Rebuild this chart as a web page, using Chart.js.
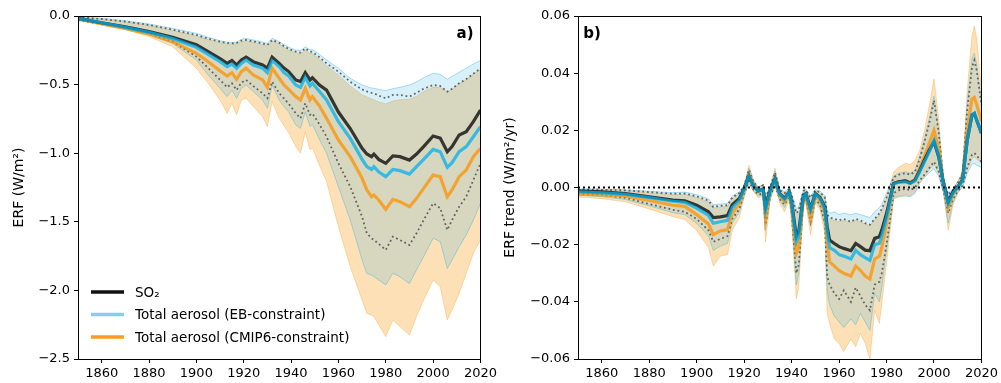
<!DOCTYPE html>
<html>
<head>
<meta charset="utf-8">
<script src="https://cdn.jsdelivr.net/npm/chart.js@4.4.0/dist/chart.umd.min.js"></script>
<style>
  body { margin: 0; background: #fff; }
  #wrap { position: relative; width: 1001px; height: 383px; }
  canvas { position: absolute; top: 0; }
</style>
</head>
<body>
<div id="wrap">
  <canvas id="chartA" width="500" height="383" style="left:0px"></canvas>
  <canvas id="chartB" width="501" height="383" style="left:500px"></canvas>
</div>
<script>
// ---- panel a) : ERF (W/m2) ----
var yearsA = [1850,1860,1870,1880,1890,1900,1905,1910,1913,1915,1917,1919,1921,1924,1928,1930,1932,1935,1937,1939,1942,1944,1946,1948,1949,1952,1955,1960,1965,1970,1972,1974,1975,1977,1980,1983,1986,1990,1993,1996,2000,2003,2006,2008,2011,2014,2017,2020];
var so2A = [-0.017,-0.049,-0.078,-0.114,-0.155,-0.21,-0.26,-0.31,-0.345,-0.325,-0.357,-0.32,-0.30,-0.333,-0.357,-0.38,-0.30,-0.345,-0.38,-0.405,-0.466,-0.478,-0.413,-0.466,-0.45,-0.503,-0.54,-0.70,-0.82,-0.965,-1.006,-1.025,-1.006,-1.045,-1.074,-1.02,-1.025,-1.05,-1.006,-0.952,-0.875,-0.89,-0.99,-0.952,-0.867,-0.843,-0.77,-0.685];
var ebA = [-0.017,-0.049,-0.083,-0.119,-0.165,-0.228,-0.279,-0.333,-0.369,-0.35,-0.381,-0.345,-0.32,-0.357,-0.381,-0.413,-0.325,-0.369,-0.413,-0.437,-0.503,-0.52,-0.447,-0.51,-0.49,-0.55,-0.612,-0.77,-0.892,-1.045,-1.098,-1.118,-1.098,-1.135,-1.171,-1.118,-1.127,-1.152,-1.098,-1.045,-0.972,-0.989,-1.103,-1.069,-0.989,-0.952,-0.88,-0.807];
var cmA = [-0.017,-0.058,-0.09,-0.131,-0.187,-0.272,-0.333,-0.40,-0.437,-0.413,-0.462,-0.406,-0.38,-0.43,-0.466,-0.52,-0.38,-0.454,-0.503,-0.535,-0.588,-0.612,-0.527,-0.612,-0.588,-0.656,-0.746,-0.904,-1.025,-1.183,-1.268,-1.317,-1.305,-1.341,-1.409,-1.336,-1.353,-1.39,-1.329,-1.256,-1.159,-1.171,-1.317,-1.268,-1.171,-1.122,-1.025,-0.965];
// ranges
var ebHiA = [-0.005,-0.017,-0.034,-0.058,-0.09,-0.126,-0.155,-0.18,-0.19,-0.194,-0.19,-0.17,-0.163,-0.175,-0.19,-0.20,-0.163,-0.187,-0.21,-0.228,-0.248,-0.253,-0.224,-0.248,-0.245,-0.28,-0.32,-0.381,-0.454,-0.503,-0.515,-0.525,-0.527,-0.535,-0.544,-0.53,-0.52,-0.503,-0.48,-0.45,-0.418,-0.425,-0.462,-0.44,-0.41,-0.38,-0.35,-0.325];
var ebLoA = [-0.03,-0.06,-0.097,-0.138,-0.2,-0.32,-0.43,-0.527,-0.588,-0.54,-0.60,-0.527,-0.503,-0.55,-0.612,-0.673,-0.503,-0.612,-0.66,-0.7,-0.794,-0.819,-0.697,-0.806,-0.79,-0.9,-1.0,-1.244,-1.487,-1.778,-1.876,-1.89,-1.90,-1.924,-1.96,-1.876,-1.90,-1.95,-1.85,-1.754,-1.62,-1.645,-1.84,-1.778,-1.681,-1.596,-1.487,-1.365];
var cmHiA = [-0.01,-0.024,-0.044,-0.068,-0.105,-0.146,-0.172,-0.194,-0.204,-0.207,-0.203,-0.188,-0.182,-0.192,-0.208,-0.218,-0.182,-0.203,-0.228,-0.248,-0.268,-0.277,-0.248,-0.272,-0.275,-0.315,-0.364,-0.43,-0.51,-0.576,-0.59,-0.605,-0.612,-0.625,-0.641,-0.62,-0.61,-0.607,-0.585,-0.55,-0.52,-0.52,-0.551,-0.535,-0.495,-0.462,-0.425,-0.389];
var cmLoA = [-0.034,-0.065,-0.10,-0.15,-0.224,-0.381,-0.49,-0.612,-0.71,-0.636,-0.72,-0.612,-0.60,-0.66,-0.734,-0.806,-0.624,-0.746,-0.8,-0.85,-0.953,-1.0,-0.843,-0.977,-0.96,-1.09,-1.207,-1.535,-1.827,-2.07,-2.167,-2.18,-2.19,-2.25,-2.337,-2.216,-2.264,-2.325,-2.19,-2.07,-1.924,-1.973,-2.216,-2.143,-2.02,-1.876,-1.73,-1.633];
var so2HiA = [-0.01,-0.022,-0.04,-0.065,-0.1,-0.138,-0.165,-0.187,-0.197,-0.2,-0.196,-0.18,-0.175,-0.185,-0.2,-0.211,-0.175,-0.195,-0.22,-0.24,-0.26,-0.267,-0.236,-0.26,-0.262,-0.3,-0.345,-0.406,-0.479,-0.535,-0.55,-0.56,-0.564,-0.58,-0.60,-0.575,-0.575,-0.588,-0.56,-0.53,-0.503,-0.51,-0.551,-0.53,-0.49,-0.46,-0.42,-0.381];
var so2LoA = [-0.03,-0.058,-0.09,-0.126,-0.187,-0.296,-0.38,-0.466,-0.52,-0.49,-0.54,-0.486,-0.466,-0.51,-0.564,-0.60,-0.479,-0.564,-0.6,-0.64,-0.71,-0.746,-0.636,-0.72,-0.71,-0.79,-0.88,-1.074,-1.244,-1.463,-1.584,-1.62,-1.633,-1.66,-1.705,-1.608,-1.633,-1.669,-1.584,-1.487,-1.365,-1.40,-1.56,-1.487,-1.39,-1.317,-1.195,-1.074];

// ---- panel b) : ERF trend (W/m2/yr) ----
var yearsB = [1850,1860,1870,1880,1890,1895,1900,1905,1907,1910,1913,1915,1918,1920,1922,1924,1926,1928,1929,1931,1933,1935,1937,1939,1940,1942,1943,1945,1946,1948,1950,1952,1954,1955,1956,1958,1960,1962,1965,1967,1969,1971,1973,1975,1977,1978,1980,1983,1985,1988,1990,1992,1994,1996,1998,2000,2002,2004,2006,2008,2010,2012,2014,2016,2017,2018,2020];
var so2B = [-0.0012,-0.0015,-0.0021,-0.0033,-0.0044,-0.0047,-0.0062,-0.0085,-0.0105,-0.0103,-0.0098,-0.006,-0.0038,-0.0003,0.004,0.0005,-0.0012,-0.0005,-0.0068,-0.0009,0.003,-0.0021,-0.0038,-0.0015,-0.005,-0.0172,-0.0155,-0.0027,-0.0021,-0.0073,-0.0021,-0.0035,-0.0068,-0.0137,-0.0184,-0.0196,-0.0207,-0.0213,-0.0221,-0.0196,-0.0207,-0.0219,-0.0221,-0.0178,-0.0172,-0.0149,-0.0091,0.0014,0.002,0.0023,0.0016,0.0026,0.006,0.0096,0.013,0.016,0.0107,0.0014,-0.005,-0.0015,0.0002,0.0026,0.0165,0.0253,0.0259,0.0235,0.019];
var ebB = [-0.0015,-0.0019,-0.0024,-0.0035,-0.0048,-0.0052,-0.0072,-0.0098,-0.0125,-0.012,-0.0115,-0.007,-0.0045,-0.0005,0.004,0.0005,-0.0013,-0.0006,-0.008,-0.0012,0.0028,-0.0024,-0.0042,-0.0017,-0.0056,-0.019,-0.017,-0.003,-0.0023,-0.008,-0.0023,-0.0038,-0.0075,-0.0155,-0.021,-0.022,-0.0235,-0.024,-0.025,-0.022,-0.0235,-0.0245,-0.0255,-0.02,-0.0195,-0.017,-0.0105,0.0012,0.0018,0.002,0.0014,0.0023,0.0055,0.009,0.0125,0.0165,0.011,0.0012,-0.0058,-0.002,0,0.0024,0.0165,0.0255,0.026,0.0236,0.019];
var cmB = [-0.0022,-0.0026,-0.003,-0.0045,-0.0062,-0.0066,-0.0095,-0.0128,-0.0165,-0.0152,-0.0148,-0.009,-0.0055,-0.0008,0.0045,0.0005,-0.0015,-0.0006,-0.011,-0.0015,0.003,-0.003,-0.005,-0.002,-0.0065,-0.023,-0.021,-0.0035,-0.003,-0.0105,-0.003,-0.0047,-0.009,-0.019,-0.026,-0.0275,-0.029,-0.03,-0.031,-0.0275,-0.029,-0.031,-0.032,-0.025,-0.024,-0.021,-0.013,0.0014,0.002,0.0024,0.0017,0.0028,0.0068,0.011,0.0155,0.02,0.0135,0.0015,-0.0072,-0.0025,0,0.003,0.02,0.031,0.0315,0.029,0.0232];
var ebHiB = [-0.0005,-0.0006,-0.0008,-0.0013,-0.0018,-0.0016,-0.0025,-0.004,-0.006,-0.0058,-0.0056,-0.003,-0.0015,0.0008,0.0068,0.0022,0.0002,0.001,-0.003,0.0005,0.0058,-0.0006,-0.0015,-0.0003,-0.0022,-0.0075,-0.0068,-0.0008,-0.0006,-0.003,-0.0007,-0.0013,-0.0028,-0.008,-0.009,-0.0085,-0.0095,-0.009,-0.0095,-0.009,-0.0095,-0.01,-0.0105,-0.0085,-0.007,-0.006,-0.002,0.004,0.005,0.0055,0.005,0.006,0.011,0.017,0.024,0.032,0.02,0.003,-0.002,-0.0005,0.002,0.005,0.029,0.045,0.047,0.043,0.030];
var ebLoB = [-0.0027,-0.0032,-0.0042,-0.0064,-0.0088,-0.0095,-0.0125,-0.017,-0.022,-0.0205,-0.0195,-0.0125,-0.0085,-0.0028,0.0015,-0.0012,-0.003,-0.0025,-0.015,-0.0036,0.0006,-0.0046,-0.007,-0.0036,-0.01,-0.034,-0.03,-0.0055,-0.0045,-0.0135,-0.0046,-0.0068,-0.0135,-0.036,-0.041,-0.045,-0.047,-0.049,-0.046,-0.048,-0.044,-0.047,-0.05,-0.037,-0.04,-0.035,-0.022,-0.0035,-0.003,-0.003,-0.0032,-0.002,0.0015,0.0035,0.0052,0.0066,0.004,-0.002,-0.0125,-0.0052,-0.0018,0,0.005,0.0082,0.0084,0.0078,0.0072];
var cmHiB = [-0.0008,-0.0009,-0.0011,-0.0018,-0.0025,-0.0024,-0.0035,-0.005,-0.0072,-0.0068,-0.0066,-0.0038,-0.0022,0.0004,0.0078,0.0026,0,0.0012,-0.004,0.0003,0.0068,-0.001,-0.0022,-0.0007,-0.003,-0.0095,-0.0085,-0.0013,-0.001,-0.004,-0.0011,-0.0019,-0.0038,-0.01,-0.011,-0.0115,-0.012,-0.0115,-0.0122,-0.0115,-0.012,-0.0128,-0.0133,-0.0113,-0.0095,-0.008,-0.004,0.0055,0.007,0.0085,0.008,0.0095,0.013,0.02,0.0285,0.038,0.024,0.0035,-0.0028,-0.0009,0.0022,0.0055,0.034,0.053,0.0565,0.052,0.034];
var cmLoB = [-0.0033,-0.0039,-0.005,-0.0075,-0.0102,-0.0112,-0.015,-0.021,-0.0275,-0.024,-0.0235,-0.015,-0.0105,-0.0036,0.0018,-0.0015,-0.0036,-0.003,-0.019,-0.0045,0.0008,-0.0055,-0.0085,-0.0045,-0.012,-0.039,-0.035,-0.0065,-0.0055,-0.0165,-0.0055,-0.008,-0.016,-0.044,-0.0475,-0.053,-0.0545,-0.0574,-0.053,-0.0557,-0.051,-0.0545,-0.06,-0.043,-0.0475,-0.0405,-0.0266,-0.004,-0.0035,-0.0025,-0.003,-0.0015,0.002,0.004,0.006,0.008,0.005,-0.0018,-0.015,-0.0062,-0.002,0.0004,0.006,0.01,0.0107,0.01,0.0085];
var so2HiB = [-0.0007,-0.0008,-0.001,-0.0016,-0.0022,-0.0021,-0.0031,-0.0046,-0.0068,-0.0064,-0.0062,-0.0035,-0.0019,0.0005,0.0062,0.0018,0,0.0008,-0.0035,0.0002,0.0052,-0.0009,-0.002,-0.0006,-0.0026,-0.009,-0.008,-0.0011,-0.0009,-0.0036,-0.001,-0.0017,-0.0034,-0.0095,-0.0105,-0.011,-0.0115,-0.011,-0.012,-0.011,-0.0115,-0.0125,-0.013,-0.011,-0.009,-0.0075,-0.0035,0.0035,0.0045,0.005,0.0045,0.0055,0.01,0.016,0.0225,0.0305,0.019,0.0026,-0.0025,-0.0008,0.0016,0.0045,0.027,0.042,0.0445,0.041,0.029];
var so2LoB = [-0.0022,-0.0026,-0.0036,-0.0058,-0.0078,-0.0085,-0.011,-0.015,-0.019,-0.018,-0.017,-0.011,-0.0075,-0.002,0.0022,-0.0008,-0.0025,-0.002,-0.013,-0.003,0.001,-0.004,-0.006,-0.003,-0.009,-0.03,-0.027,-0.0048,-0.004,-0.012,-0.004,-0.006,-0.012,-0.031,-0.034,-0.037,-0.039,-0.036,-0.04,-0.035,-0.038,-0.041,-0.043,-0.034,-0.033,-0.03,-0.02,-0.002,-0.001,-0.0005,-0.001,0,0.0025,0.0045,0.0068,0.009,0.0055,-0.001,-0.009,-0.004,-0.0012,0.0006,0.007,0.0115,0.012,0.0112,0.009];

// ticks and labels
var xTicks = [1860,1880,1900,1920,1940,1960,1980,2000,2020];
var yTicksA = [0,-0.5,-1.0,-1.5,-2.0,-2.5];
var yTicksB = [0.06,0.04,0.02,0,-0.02,-0.04,-0.06];
var legendLabels = ['SO\u2082', 'Total aerosol (EB-constraint)', 'Total aerosol (CMIP6-constraint)'];
var legendColors = ['#111111', '#87ceeb', '#ff9a1f'];

Chart.defaults.font.family = 'DejaVu Sans';
Chart.defaults.font.size = 13;
Chart.defaults.color = '#000';

function pts(xs, ys){
    return xs.map(function(x, i){ return {x: x, y: ys[i]}; });
}

function fmt(v, d){
    if(Math.abs(v) < 1e-9) v = 0;
    return v.toFixed(d).replace('-', '\u2212');
}

// frame box, panel letter and (panel a only) the legend
var framePlugin = {
    id: 'frame',
    afterDraw: function(chart, args, opts){
        var a = chart.chartArea, c = chart.ctx;
        c.save();
        c.strokeStyle = '#000';
        c.lineWidth = 1;
        c.strokeRect(Math.round(a.left) + 0.5, Math.round(a.top) + 0.5, Math.round(a.right - a.left), Math.round(a.bottom - a.top));
        c.font = 'bold 15px "DejaVu Sans"';
        c.fillStyle = '#000';
        c.textAlign = 'center';
        c.textBaseline = 'middle';
        c.fillText(opts.letter, opts.lx, opts.ly);
        if(opts.legend){
            c.font = '13.5px "DejaVu Sans"';
            c.textAlign = 'left';
            for(var i = 0; i < legendLabels.length; i++){
                var y = 292 + i * 22.5;
                c.strokeStyle = legendColors[i];
                c.lineWidth = 3.5;
                c.beginPath();
                c.moveTo(91, y);
                c.lineTo(124, y);
                c.stroke();
                c.fillText(legendLabels[i], 135, y + 1);
            }
        }
        c.restore();
    }
};

function buildDatasets(years, m, withZero){
    var dot = [1.8, 2.8];
    var ds = [
        // CMIP6-constraint range (orange)
        {data: pts(years, m.cmHi), borderColor: 'rgba(250,175,80,0.45)', borderWidth: 1, fill: false, order: 60},
        {data: pts(years, m.cmLo), borderColor: 'rgba(250,175,80,0.45)', borderWidth: 1, fill: '-1', backgroundColor: 'rgba(252,160,30,0.32)', order: 60},
        // EB-constraint range (blue)
        {data: pts(years, m.ebHi), borderColor: 'rgba(100,195,230,0.55)', borderWidth: 1, fill: false, order: 50},
        {data: pts(years, m.ebLo), borderColor: 'rgba(100,195,215,0.6)', borderWidth: 1, fill: '-1', backgroundColor: 'rgba(40,170,225,0.18)', order: 50},
        // SO2 range, dotted
        {data: pts(years, m.soHi), borderColor: 'rgba(70,70,70,0.8)', borderWidth: 1.8, borderDash: dot, fill: false, order: 40},
        {data: pts(years, m.soLo), borderColor: 'rgba(70,70,70,0.8)', borderWidth: 1.8, borderDash: dot, fill: false, order: 40},
        // means
        {data: pts(years, m.cm), borderColor: 'rgba(255,145,0,0.75)', borderWidth: 3.2, fill: false, order: 30},
        {data: pts(years, m.so2), borderColor: 'rgba(0,0,0,0.75)', borderWidth: 3.2, fill: false, order: 20},
        {data: pts(years, m.eb), borderColor: 'rgba(0,176,238,0.75)', borderWidth: 3.2, fill: false, order: 10}
    ];
    if(withZero){
        ds.push({data: pts([1850, 2020], [0, 0]), borderColor: '#000', borderWidth: 1.8, borderDash: [2, 3], fill: false, order: 0});
    }
    return ds;
}

function drawPanel(id, years, m, opt){
    var ctx = document.getElementById(id).getContext('2d');
    return new Chart(ctx, {
        type: 'line',
        data: {datasets: buildDatasets(years, m, opt.zero)},
        options: {
            responsive: false,
            animation: false,
            layout: {padding: {left: 0, right: opt.padRight, top: 16, bottom: 0}},
            elements: {point: {radius: 0}, line: {tension: 0}},
            plugins: {
                legend: {display: false},
                tooltip: {enabled: false},
                frame: {letter: opt.letter, lx: opt.lx, ly: opt.ly, legend: opt.legend}
            },
            scales: {
                x: {
                    type: 'linear', min: 1850, max: 2020,
                    afterBuildTicks: function(s){ s.ticks = xTicks.map(function(v){ return {value: v}; }); },
                    afterFit: function(s){ s.height = 24; },
                    grid: {drawOnChartArea: false, tickLength: 4, color: '#000'},
                    border: {display: false},
                    ticks: {padding: 3, maxRotation: 0, autoSkip: false, callback: function(v){ return String(v); }}
                },
                y: {
                    min: opt.ymin, max: opt.ymax,
                    afterBuildTicks: function(s){ s.ticks = opt.yticks.map(function(v){ return {value: v}; }); },
                    afterFit: function(s){ s.width = 78; },
                    grid: {drawOnChartArea: false, tickLength: 4, color: '#000'},
                    border: {display: false},
                    title: {display: true, text: opt.ytitle, font: {size: 14}, padding: {top: opt.titlePad, bottom: 0}},
                    ticks: {padding: 4, autoSkip: false, callback: function(v){ return fmt(v, opt.dec); }}
                }
            }
        },
        plugins: [framePlugin]
    });
}

drawPanel('chartA', yearsA,
    {so2: so2A, eb: ebA, cm: cmA, ebHi: ebHiA, ebLo: ebLoA, cmHi: cmHiA, cmLo: cmLoA, soHi: so2HiA, soLo: so2LoA},
    {zero: false, padRight: 18, letter: 'a)', lx: 465, ly: 34, legend: true,
     ymin: -2.5, ymax: 0, yticks: yTicksA, dec: 1, ytitle: 'ERF (W/m\u00b2)', titlePad: 11});

drawPanel('chartB', yearsB,
    {so2: so2B, eb: ebB, cm: cmB, ebHi: ebHiB, ebLo: ebLoB, cmHi: cmHiB, cmLo: cmLoB, soHi: so2HiB, soLo: so2LoB},
    {zero: true, padRight: 19, letter: 'b)', lx: 92, ly: 34, legend: false,
     ymin: -0.06, ymax: 0.06, yticks: yTicksB, dec: 2, ytitle: 'ERF trend (W/m\u00b2/yr)', titlePad: 2});
</script>
</body>
</html>
